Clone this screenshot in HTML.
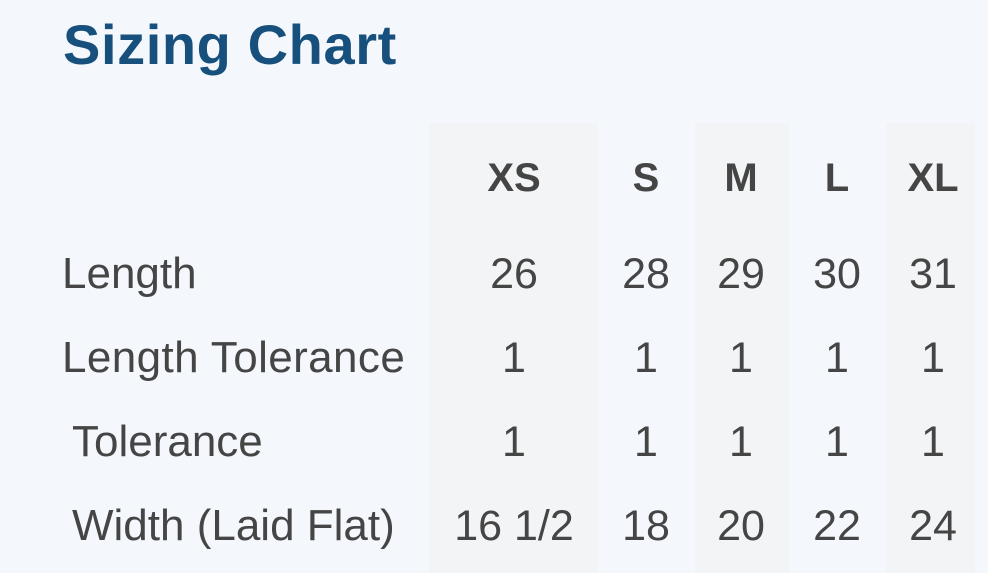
<!DOCTYPE html>
<html><head><style>
body{margin:0;width:988px;height:573px;background:#f4f8fd;position:relative;overflow:hidden;font-family:"Liberation Sans",sans-serif;color:#454545}
.sh{position:absolute;top:123px;height:450px;background:#f3f4f5}
.t{position:absolute;white-space:nowrap;line-height:1}
.c{transform:translateX(-50%)}
.h{font-weight:bold;font-size:40px}
.b{font-size:43px}
.lab{font-size:44px}
</style></head><body>
<div class="t" style="left:63px;top:17px;font-size:56px;font-weight:bold;color:#17507c;letter-spacing:0.6px">Sizing Chart</div>
<div class="sh" style="left:429px;width:169px"></div>
<div class="sh" style="left:695px;width:94px"></div>
<div class="sh" style="left:886px;width:89px"></div>
<div class="t h c" style="left:514px;top:158px">XS</div>
<div class="t h c" style="left:646px;top:158px">S</div>
<div class="t h c" style="left:741px;top:158px">M</div>
<div class="t h c" style="left:837px;top:158px">L</div>
<div class="t h c" style="left:933px;top:158px">XL</div>

<div class="t lab" style="left:62px;top:252px">Length</div>
<div class="t b c" style="left:514px;top:253px">26</div>
<div class="t b c" style="left:646px;top:253px">28</div>
<div class="t b c" style="left:741px;top:253px">29</div>
<div class="t b c" style="left:837px;top:253px">30</div>
<div class="t b c" style="left:933px;top:253px">31</div>

<div class="t lab" style="left:62px;top:336px;letter-spacing:0.4px">Length Tolerance</div>
<div class="t b c" style="left:514px;top:337px">1</div>
<div class="t b c" style="left:646px;top:337px">1</div>
<div class="t b c" style="left:741px;top:337px">1</div>
<div class="t b c" style="left:837px;top:337px">1</div>
<div class="t b c" style="left:933px;top:337px">1</div>

<div class="t lab" style="left:72px;top:420px">Tolerance</div>
<div class="t b c" style="left:514px;top:421px">1</div>
<div class="t b c" style="left:646px;top:421px">1</div>
<div class="t b c" style="left:741px;top:421px">1</div>
<div class="t b c" style="left:837px;top:421px">1</div>
<div class="t b c" style="left:933px;top:421px">1</div>

<div class="t lab" style="left:72px;top:504px">Width (Laid Flat)</div>
<div class="t b c" style="left:514px;top:505px">16 1/2</div>
<div class="t b c" style="left:646px;top:505px">18</div>
<div class="t b c" style="left:741px;top:505px">20</div>
<div class="t b c" style="left:837px;top:505px">22</div>
<div class="t b c" style="left:933px;top:505px">24</div>
</body></html>
